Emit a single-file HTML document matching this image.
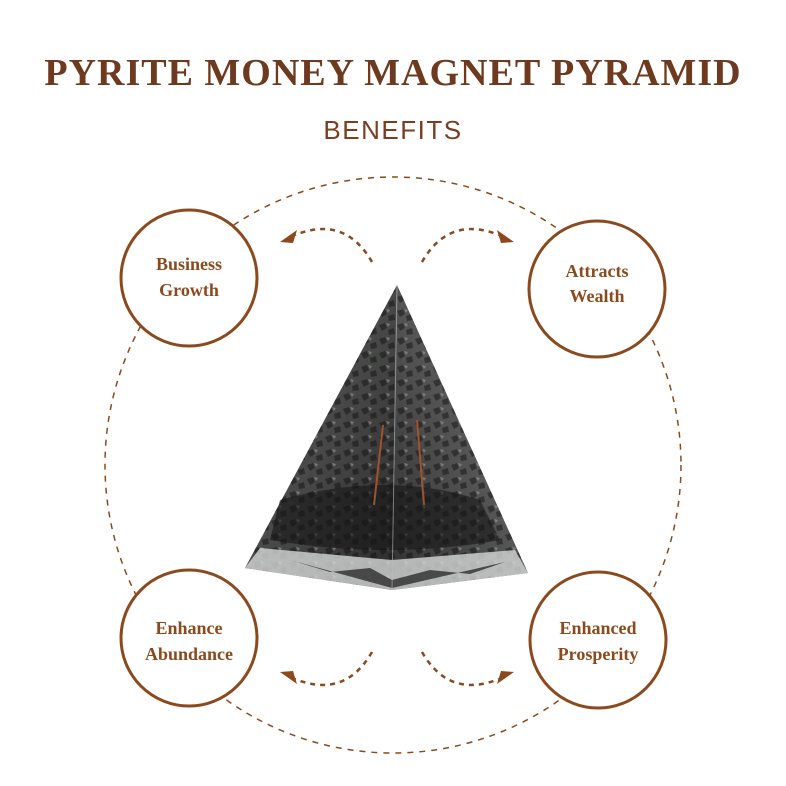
<!DOCTYPE html>
<html><head><meta charset="utf-8"><style>
body{margin:0;background:#fff;}
svg{display:block}
</style></head><body>
<svg width="786" height="786" viewBox="0 0 786 786" xmlns="http://www.w3.org/2000/svg">
<defs>
<linearGradient id="lf" x1="0" y1="0" x2="1" y2="1"><stop offset="0" stop-color="#666866"/><stop offset="1" stop-color="#2a2b2a"/></linearGradient>
<linearGradient id="rf" x1="1" y1="0" x2="0" y2="1"><stop offset="0" stop-color="#777977"/><stop offset="1" stop-color="#303130"/></linearGradient>
<pattern id="rocks" width="18" height="14" patternUnits="userSpaceOnUse">
<path d="M1 3 L7 1 L9 6 L4 9Z M10 8 L16 6 L17 12 L11 13Z" fill="#111" opacity=".5"/>
<path d="M8 1 L12 2 L10 5Z" fill="#aaa" opacity=".5"/>
</pattern>
</defs>
<text x="393" y="85" text-anchor="middle" font-family="Liberation Serif, serif" font-weight="bold" font-size="38" fill="#6e3a1f" letter-spacing="1">PYRITE MONEY MAGNET PYRAMID</text>
<text x="393" y="139" text-anchor="middle" font-family="Liberation Sans, sans-serif" font-size="26" fill="#7a3e22" letter-spacing="1.5">BENEFITS</text>
<g fill="none" stroke="#8b4a1e" stroke-width="1.5" stroke-dasharray="6 6">
<circle cx="393" cy="465" r="288"/>
</g>
<g fill="none" stroke="#8b4a1e" stroke-width="2.5" stroke-dasharray="5 5">
<path d="M372 262 Q345 215 295 235"/>
<path d="M422 262 Q449 215 499 235"/>
<path d="M372 652 Q345 699 295 679"/>
<path d="M422 652 Q449 699 499 679"/>
</g>
<g fill="#8b4a1e">
<path d="M280 242 L297 230 L293 243Z"/>
<path d="M514 242 L497 230 L501 243Z"/>
<path d="M280 672 L297 684 L293 671Z"/>
<path d="M514 672 L497 684 L501 671Z"/>
</g>
<g fill="#fff" stroke="#8b4a1e" stroke-width="3">
<circle cx="189" cy="278" r="68"/>
<circle cx="597" cy="289" r="68"/>
<circle cx="189" cy="638" r="68"/>
<circle cx="598" cy="640" r="68"/>
</g>
<g font-family="Liberation Serif, serif" font-weight="bold" font-size="18" fill="#8b4a1e" text-anchor="middle">
<text x="189" y="270">Business</text><text x="189" y="296">Growth</text>
<text x="597" y="277">Attracts</text><text x="597" y="302">Wealth</text>
<text x="189" y="634">Enhance</text><text x="189" y="660">Abundance</text>
<text x="598" y="634">Enhanced</text><text x="598" y="660">Prosperity</text>
</g>
<path d="M397 285 L245 568 L392 590Z" fill="url(#lf)"/>
<path d="M397 285 L528 573 L392 590Z" fill="url(#rf)"/>
<path d="M397 285 L245 568 L392 590 L528 573Z" fill="url(#rocks)"/>
<path d="M260 548 L392 560 L515 550 L528 573 L392 590 L245 568Z" fill="#d6d8d7" opacity=".8"/>
<path d="M290 560 L330 572 L370 568 L392 580 L430 570 L470 574 L505 562 L392 588Z" fill="#1a1a1a" opacity=".7"/>
<path d="M280 500 Q390 470 480 500 L500 540 Q390 560 270 540Z" fill="#151515" opacity=".6"/>
<path d="M397 285 L392 590" stroke="#bbb" stroke-width="1" opacity=".6"/>
<path d="M383 425 L374 505 M417 420 L424 505" stroke="#a0522d" stroke-width="2"/>
</svg>
</body></html>
